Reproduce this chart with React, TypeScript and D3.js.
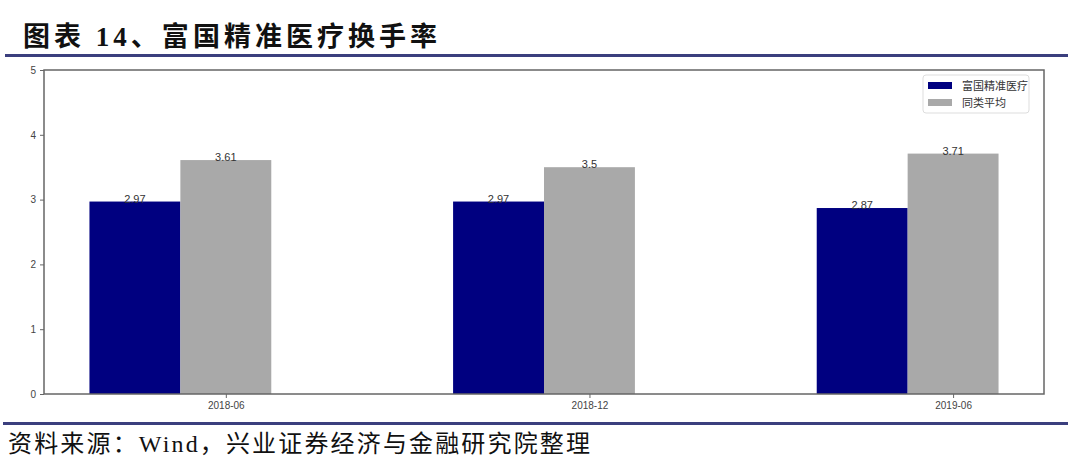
import React, { useEffect, useRef } from 'react';
import * as d3 from 'd3';

const categories = ['2018-06', '2018-12', '2019-06'];
const fundValues = [2.97, 2.97, 2.87];
const peerValues = [3.61, 3.5, 3.71];
const seriesNames = ['富国精准医疗', '同类平均'];
const yTicks = [0, 1, 2, 3, 4, 5];

const W = 1080;
const H = 469;

export default function App() {
  const svgRef = useRef<SVGSVGElement>(null);

  useEffect(() => {
    if (!svgRef.current) return;
    const svg = d3.select(svgRef.current);
    svg.selectAll('*').remove();

    const left = 44;
    const right = 1044;
    const top = 70;
    const bottom = 394;

    // matplotlib-like: bars of width 0.25, first series offset left by one width
    const barW = 0.25;
    const x = d3.scaleLinear().domain([-0.5, 2.25]).range([left, right]);
    const y = d3.scaleLinear().domain([0, 5]).range([bottom, top]);
    const colors = ['#000080', '#a9a9a9'];

    // Title
    svg
      .append('text')
      .attr('x', 23)
      .attr('y', 46)
      .attr('font-family', '"Liberation Serif", "Noto Sans CJK SC"')
      .attr('font-weight', 'bold')
      .attr('font-size', 27)
      .attr('fill', '#111')
      .attr('textLength', 414)
      .attr('lengthAdjust', 'spacing')
      .text('图表 14、富国精准医疗换手率');

    svg
      .append('line')
      .attr('x1', 5)
      .attr('x2', 1068)
      .attr('y1', 55.5)
      .attr('y2', 55.5)
      .attr('stroke', '#3b3f7e')
      .attr('stroke-width', 3);

    const g = svg.append('g');

    // Bars
    const series = [fundValues, peerValues];
    series.forEach((vals, si) => {
      const offset = si === 0 ? -barW : 0;
      g.selectAll(`.bar-${si}`)
        .data(vals)
        .enter()
        .append('rect')
        .attr('class', `bar-${si}`)
        .attr('x', (_d, i) => x(i + offset - barW / 2))
        .attr('width', x(barW) - x(0))
        .attr('y', (d) => y(d))
        .attr('height', (d) => bottom - y(d))
        .attr('fill', colors[si]);

      g.selectAll(`.lbl-${si}`)
        .data(vals)
        .enter()
        .append('text')
        .attr('class', `lbl-${si}`)
        .attr('x', (_d, i) => x(i + offset))
        .attr('y', (d) => y(d) + 1)
        .attr('text-anchor', 'middle')
        .attr('font-family', '"Liberation Sans", Arial, sans-serif')
        .attr('font-size', 11)
        .attr('fill', '#333')
        .text((d) => String(d));
    });

    // Frame
    g.append('rect')
      .attr('x', left)
      .attr('y', top)
      .attr('width', right - left)
      .attr('height', bottom - top)
      .attr('fill', 'none')
      .attr('stroke', '#666')
      .attr('stroke-width', 1.5);

    // Y axis
    const yAxis = g
      .append('g')
      .attr('transform', `translate(${left},0)`)
      .call(
        d3
          .axisLeft(y)
          .tickValues(yTicks)
          .tickFormat(d3.format('d'))
          .tickSize(4)
          .tickPadding(4)
      );
    yAxis.select('.domain').remove();
    yAxis.selectAll('line').attr('stroke', '#666');
    yAxis
      .selectAll('text')
      .attr('font-family', '"Liberation Sans", Arial, sans-serif')
      .attr('font-size', 10)
      .attr('fill', '#444');

    // X axis
    const xAxis = g
      .append('g')
      .attr('transform', `translate(0,${bottom})`)
      .call(
        d3
          .axisBottom(x)
          .tickValues(categories.map((_c, i) => i))
          .tickFormat((d) => categories[Number(d)])
          .tickSize(4)
          .tickPadding(4)
      );
    xAxis.select('.domain').remove();
    xAxis.selectAll('line').attr('stroke', '#666');
    xAxis
      .selectAll('text')
      .attr('font-family', '"Liberation Sans", Arial, sans-serif')
      .attr('font-size', 10)
      .attr('fill', '#444');

    // Legend
    const lg = g.append('g').attr('transform', 'translate(923,75)');
    lg.append('rect')
      .attr('width', 106)
      .attr('height', 38)
      .attr('rx', 3)
      .attr('fill', '#fff')
      .attr('stroke', '#ddd');
    seriesNames.forEach((name, i) => {
      lg.append('rect')
        .attr('x', 5)
        .attr('y', 7 + i * 17)
        .attr('width', 24)
        .attr('height', 7)
        .attr('fill', colors[i]);
      lg.append('text')
        .attr('x', 39)
        .attr('y', 15 + i * 17)
        .attr('font-family', '"Noto Sans CJK SC", sans-serif')
        .attr('font-size', 11)
        .attr('fill', '#333')
        .text(name);
    });

    // Footer
    svg
      .append('line')
      .attr('x1', 3)
      .attr('x2', 1068)
      .attr('y1', 423.5)
      .attr('y2', 423.5)
      .attr('stroke', '#3b3f7e')
      .attr('stroke-width', 3);

    svg
      .append('text')
      .attr('x', 8)
      .attr('y', 452)
      .attr('font-family', '"Liberation Serif", "Noto Sans CJK SC"')
      .attr('font-size', 24)
      .attr('fill', '#111')
      .attr('textLength', 582)
      .attr('lengthAdjust', 'spacing')
      .text('资料来源：Wind，兴业证券经济与金融研究院整理');
  }, []);

  return (
    <div style={{ position: 'absolute', left: 0, top: 0 }}>
      <svg ref={svgRef} width={W} height={H} style={{ display: 'block', background: '#fff' }} />
    </div>
  );
}
